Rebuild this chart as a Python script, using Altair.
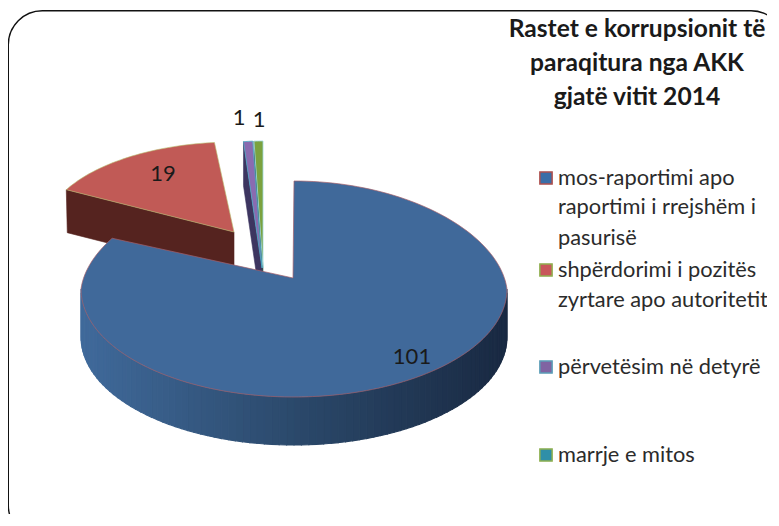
import math
import altair as alt
import pandas as pd

# ---- data ----
categories = ["mos-raportimi apo raportimi i rrejshëm i pasurisë",
              "shpërdorimi i pozitës zyrtare apo autoritetit",
              "përvetësim në detyrë",
              "marrje e mitos"]
values = [101, 19, 1, 1]
title_lines = ["Rastet e korrupsionit të", "paraqitura nga AKK", "gjatë vitit 2014"]
legend_lines = [["mos-raportimi apo", "raportimi i rrejshëm i", "pasurisë"],
                ["shpërdorimi i pozitës", "zyrtare apo autoritetit"],
                ["përvetësim në detyrë"],
                ["marrje e mitos"]]

# ---- style and layout ----
FONT = "Lato"
ORIGIN = 12
face = ["#40699a", "#c15a56", "#8a6bb0", "#7ba23f"]
wall = [None, "#55231f", "#3d3560", "#2f5a50"]
edge = ["#a5606a", "#b9c070", "#4bacc6", "#9fd8e0"]
swatch = ["#3a6ea8", "#c8575a", "#8064a2", "#2f8fa8"]
swatch_edge = ["#b0504d", "#8fb04f", "#5b9fb8", "#8fb04f"]
grad = [(0x40, 0x6a, 0x9b), (0x2b, 0x49, 0x6b), (0x19, 0x29, 0x42)]
# apex x, apex y, ellipse centre x, centre y, rx, ry, depth, top narrowing
geo = [(293, 278, 294, 289, 213, 108, 48, 0.07),
       (234, 232, 234, 232, 190, 90, 43, 0),
       (262, 268, 262, 268, 180, 127, 44, 0),
       (263, 268, 263, 268, 175, 127, 44, 0)]
legend_y = [[178, 207, 238], [270, 300], [367], [455]]
swatch_y = [178, 270, 367, 455]
title_y = [30, 64, 98]
value_pos = [(412, 357), (163, 174), (239, 118), (259, 120)]


def P(x, y):
    return [x - ORIGIN, y - ORIGIN]


def feature(pts, fill, stroke, width=0.6):
    ring = [P(x, y) for x, y in pts]
    ring.append(ring[0])
    return {"type": "Feature",
            "properties": {"fill": fill, "stroke": stroke, "sw": width},
            "geometry": {"type": "Polygon", "coordinates": [ring]}}


def rim(i, a):
    _, _, cx, cy, rx, ry, _, k = geo[i]
    r = math.radians(a)
    c = math.cos(r)
    return cx + rx * math.sin(r) * (1 - k * max(c, 0)), cy - ry * c


def arc(i, a0, a1, n):
    return [rim(i, a0 + (a1 - a0) * k / n) for k in range(n + 1)]


total = sum(values)
bounds = [0]
for v in values:
    bounds.append(bounds[-1] + v / total * 360)


def grad_color(t):
    t = t * 2
    a, b = (grad[0], grad[1]) if t < 1 else (grad[1], grad[2])
    t = t if t < 1 else t - 1
    return "#%02x%02x%02x" % tuple(round(a[k] + (b[k] - a[k]) * t) for k in range(3))


features = []
ax, ay, *_ = geo[1]
d = geo[1][6]
lx, ly = rim(1, bounds[1])
features.append(feature([(lx, ly), (ax, ay), (ax, ay + d), (lx + 1, ly + d)], wall[1], wall[1]))
features.append(feature([(ax, ay)] + arc(1, bounds[1], bounds[2], 40), face[1], edge[1]))
for i, a0, a1 in [(3, bounds[3], bounds[4]), (2, bounds[2], bounds[3])]:
    ax, ay, *_ = geo[i]
    d = geo[i][6]
    lx, ly = rim(i, a0)
    features.append(feature([(lx, ly), (ax, ay), (ax, ay + d), (lx, ly + d)], wall[i], wall[i]))
    features.append(feature([(ax, ay)] + arc(i, a0, a1, 4), face[i], edge[i], 0.8))
d = geo[0][6]
n = 90
xl, xr = rim(0, 270)[0], rim(0, 90)[0]
for k in range(n):
    a0 = 90 + 180 * k / n
    a1 = 90 + 180 * (k + 1) / n
    p0, p1 = rim(0, a0), rim(0, a1)
    c = grad_color(((p0[0] + p1[0]) / 2 - xl) / (xr - xl))
    features.append(feature([p0, p1, (p1[0], p1[1] + d), (p0[0], p0[1] + d)], c, c, 1.1))
features.append(feature([(geo[0][0], geo[0][1])] + arc(0, bounds[0], bounds[1], 160), face[0], edge[0], 0.7))

shapes = (
    alt.Chart(alt.Data(values=features))
    .mark_geoshape()
    .encode(fill=alt.Fill("properties.fill:N", scale=None),
            stroke=alt.Stroke("properties.stroke:N", scale=None),
            strokeWidth=alt.StrokeWidth("properties.sw:Q", scale=None))
    .project(type="identity", scale=1, translate=[0, 0])
)

frame = alt.Chart(pd.DataFrame({"a": [0]})).mark_rect(
    fill="white", stroke="#111111", strokeWidth=1.4, cornerRadius=34
).encode(x=alt.value(8.3 - ORIGIN), x2=alt.value(785 - ORIGIN),
         y=alt.value(10.8 - ORIGIN), y2=alt.value(539 - ORIGIN))

title_df = pd.DataFrame({"t": title_lines, "x": [637 - ORIGIN] * 3, "y": [y - ORIGIN for y in title_y]})
title = alt.Chart(title_df).mark_text(
    font=FONT, fontWeight="bold", fontSize=24.6, color="#1a1a1a", align="center", baseline="middle"
).encode(x=alt.X("x:Q", scale=None), y=alt.Y("y:Q", scale=None), text="t:N")

leg_rows = []
for lines, ys in zip(legend_lines, legend_y):
    for line, y in zip(lines, ys):
        leg_rows.append({"t": line, "x": 558 - ORIGIN, "y": y - ORIGIN})
legend_text = alt.Chart(pd.DataFrame(leg_rows)).mark_text(
    font=FONT, fontSize=21.8, color="#2b2b2b", align="left", baseline="middle"
).encode(x=alt.X("x:Q", scale=None), y=alt.Y("y:Q", scale=None), text="t:N")

sw_df = pd.DataFrame({"cat": categories, "f": swatch, "s": swatch_edge,
                      "x": [546 - ORIGIN] * 4, "y": [y - ORIGIN for y in swatch_y]})
legend_marks = alt.Chart(sw_df).mark_square(size=150, opacity=1, strokeWidth=1.5).encode(
    x=alt.X("x:Q", scale=None), y=alt.Y("y:Q", scale=None),
    fill=alt.Fill("f:N", scale=None), stroke=alt.Stroke("s:N", scale=None))

val_df = pd.DataFrame({"v": values, "x": [p[0] - ORIGIN for p in value_pos],
                       "y": [p[1] - ORIGIN for p in value_pos]})
labels = alt.Chart(val_df).mark_text(
    font=FONT, fontSize=22, color="#1a1a1a", align="center", baseline="middle"
).encode(x=alt.X("x:Q", scale=None), y=alt.Y("y:Q", scale=None), text="v:Q")

chart = alt.layer(frame, shapes, title, legend_marks, legend_text, labels).properties(
    width=759, height=506,
    padding={"left": 4, "top": 4, "right": 0, "bottom": 0},
    autosize=alt.AutoSizeParams(type="none", contains="padding"),
    background="white",
).configure_view(stroke=None)

chart.save("out.html", embed_options={"renderer": "svg", "actions": False})
